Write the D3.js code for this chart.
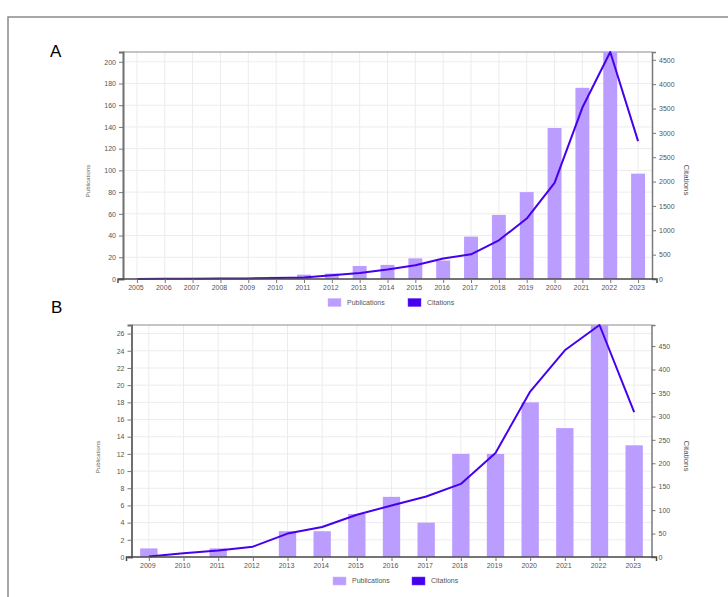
<!DOCTYPE html>
<html><head><meta charset="utf-8">
<script src="https://cdn.jsdelivr.net/npm/d3@7"></script>
<style>
body{margin:0;background:#fff;}
svg{display:block;font-family:"Liberation Sans",Arial,sans-serif;}
</style></head>
<body>
<svg id="chart" width="728" height="597"></svg>
<script>
// ---- Data ----
const yearsA = ["2005","2006","2007","2008","2009","2010","2011","2012","2013","2014","2015","2016","2017","2018","2019","2020","2021","2022","2023"];
const publicationsA = [0,0,1,1,1,2,4,5,12,13,19,17,39,59,80,139,176,209,97];
const citationsA = [2,4,6,8,12,18,29,76,123,193,281,419,507,795,1241,1973,3520,4660,2830];
const pubTicksA = [0,20,40,60,80,100,120,140,160,180,200];
const citTicksA = [0,500,1000,1500,2000,2500,3000,3500,4000,4500];

const yearsB = ["2009","2010","2011","2012","2013","2014","2015","2016","2017","2018","2019","2020","2021","2022","2023"];
const publicationsB = [1,0,1,0,3,3,5,7,4,12,12,18,15,27,13];
const citationsB = [1,8,14,22,50,64,90,110,129,156,222,353,441,495,309];
const pubTicksB = [0,2,4,6,8,10,12,14,16,18,20,22,24,26];
const citTicksB = [0,50,100,150,200,250,300,350,400,450];

const legendLabels = ["Publications","Citations"];
const barColor = "#bb9cff";
const lineColor = "#4600ee";

const svg = d3.select("#chart");

// outer frame
svg.append("rect").attr("x",8).attr("y",17).attr("width",760).attr("height",620)
  .attr("fill","none").attr("stroke","#8a8a8a").attr("stroke-width",1.5);

function panel(o){
  const g = svg.append("g");
  const x = d3.scaleBand().domain(o.years).range([o.left,o.right]).paddingInner(0.5).paddingOuter(0.25);
  const xc = d3.scalePoint().domain(o.years).range([o.left,o.right]).padding(0.5);
  const yL = d3.scaleLinear().domain([0,o.pubMax]).range([o.bottom,o.top]);
  const yR = d3.scaleLinear().domain([0,o.citMax]).range([o.bottom,o.top]);

  // grid
  g.append("g").selectAll("line").data(o.pubTicks).join("line")
    .attr("x1",o.left).attr("x2",o.right).attr("y1",d=>yL(d)).attr("y2",d=>yL(d))
    .attr("stroke","#ececec").attr("stroke-width",1);
  g.append("g").selectAll("line").data(o.years).join("line")
    .attr("x1",d=>xc(d)).attr("x2",d=>xc(d)).attr("y1",o.top).attr("y2",o.bottom)
    .attr("stroke","#ececec").attr("stroke-width",1);

  // top border
  g.append("line").attr("x1",o.left).attr("x2",o.right).attr("y1",o.top).attr("y2",o.top)
    .attr("stroke","#8a8a8a").attr("stroke-width",1);

  // bars
  const bw = x.bandwidth();
  g.append("g").selectAll("rect").data(o.years).join("rect")
    .attr("x",d=>xc(d)-bw/2).attr("width",bw)
    .attr("y",(d,i)=>yL(o.pubs[i])).attr("height",(d,i)=>o.bottom-yL(o.pubs[i]))
    .attr("fill",barColor);

  // line
  const line = d3.line().x((d,i)=>xc(o.years[i])).y(d=>yR(d));
  g.append("path").datum(o.cits).attr("d",line).attr("fill","none")
    .attr("stroke",lineColor).attr("stroke-width",2).attr("stroke-linejoin","round");

  // axes
  const styleAxis = (sel, col, w) => {
    sel.select(".domain").attr("stroke",col).attr("stroke-width",w);
    sel.selectAll(".tick line").attr("stroke","#777");
    sel.selectAll(".tick text").attr("fill","#555").style("font-size","7px");
  };
  const la = g.append("g").attr("transform",`translate(${o.left},0)`)
    .call(d3.axisLeft(yL).tickValues(o.pubTicks).tickFormat(d3.format("d")).tickSize(4).tickPadding(3).tickSizeOuter(4));
  styleAxis(la,"#6f6f6f",2);
  const ra = g.append("g").attr("transform",`translate(${o.right},0)`)
    .call(d3.axisRight(yR).tickValues(o.citTicks).tickFormat(d3.format("d")).tickSize(4).tickPadding(3).tickSizeOuter(4));
  styleAxis(ra,"#7a7a7a",1.5);
  const ba = g.append("g").attr("transform",`translate(0,${o.bottom})`)
    .call(d3.axisBottom(xc).tickSize(4).tickPadding(2).tickSizeOuter(4));
  styleAxis(ba,"#4a4a4a",1.5);
  ba.select(".domain").attr("d",`M${o.left-5},4V0H${o.right+5}V4`);
  ba.selectAll(".tick text").attr("dx",-1.5);

  // axis titles
  g.append("text").attr("transform",`translate(${o.ltX},${o.ltY}) rotate(-90)`)
    .attr("text-anchor","middle").attr("dy","0.35em").attr("fill","#666")
    .style("font-size","6px").text(legendLabels[0]);
  g.append("text").attr("transform",`translate(${o.rtX},${o.rtY}) rotate(90)`)
    .attr("text-anchor","middle").attr("dy","0.35em").attr("fill","#555")
    .style("font-size","8px").text(legendLabels[1]);

  // panel label
  g.append("text").attr("x",o.labX).attr("y",o.labY).attr("fill","#000")
    .style("font-size","17px").text(o.label);

  // legend
  const leg = g.append("g");
  [barColor,lineColor].forEach((c,i)=>{
    leg.append("rect").attr("x",o.legX[i]).attr("y",o.legY-4).attr("width",13).attr("height",8)
      .attr("fill",c).attr("stroke",i===0?"#cdb8ff":"#6a3cff").attr("stroke-width",0.5);
    leg.append("text").attr("x",o.legX[i]+19).attr("y",o.legY).attr("dy","0.35em")
      .attr("fill","#555").style("font-size","7px").text(legendLabels[i]);
  });
}

panel({years:yearsA,pubs:publicationsA,cits:citationsA,pubTicks:pubTicksA,citTicks:citTicksA,
  pubMax:209,citMax:4660,left:123,right:652,top:52,bottom:279,
  ltX:88,ltY:181,rtX:687,rtY:180,label:"A",labX:50,labY:57,legX:[328,408],legY:302.5});
panel({years:yearsB,pubs:publicationsB,cits:citationsB,pubTicks:pubTicksB,citTicks:citTicksB,
  pubMax:27,citMax:495,left:131.5,right:651.5,top:325,bottom:557,
  ltX:98,ltY:457,rtX:687,rtY:456,label:"B",labX:51,labY:313,legX:[333,412],legY:581});
</script>
</body></html>
